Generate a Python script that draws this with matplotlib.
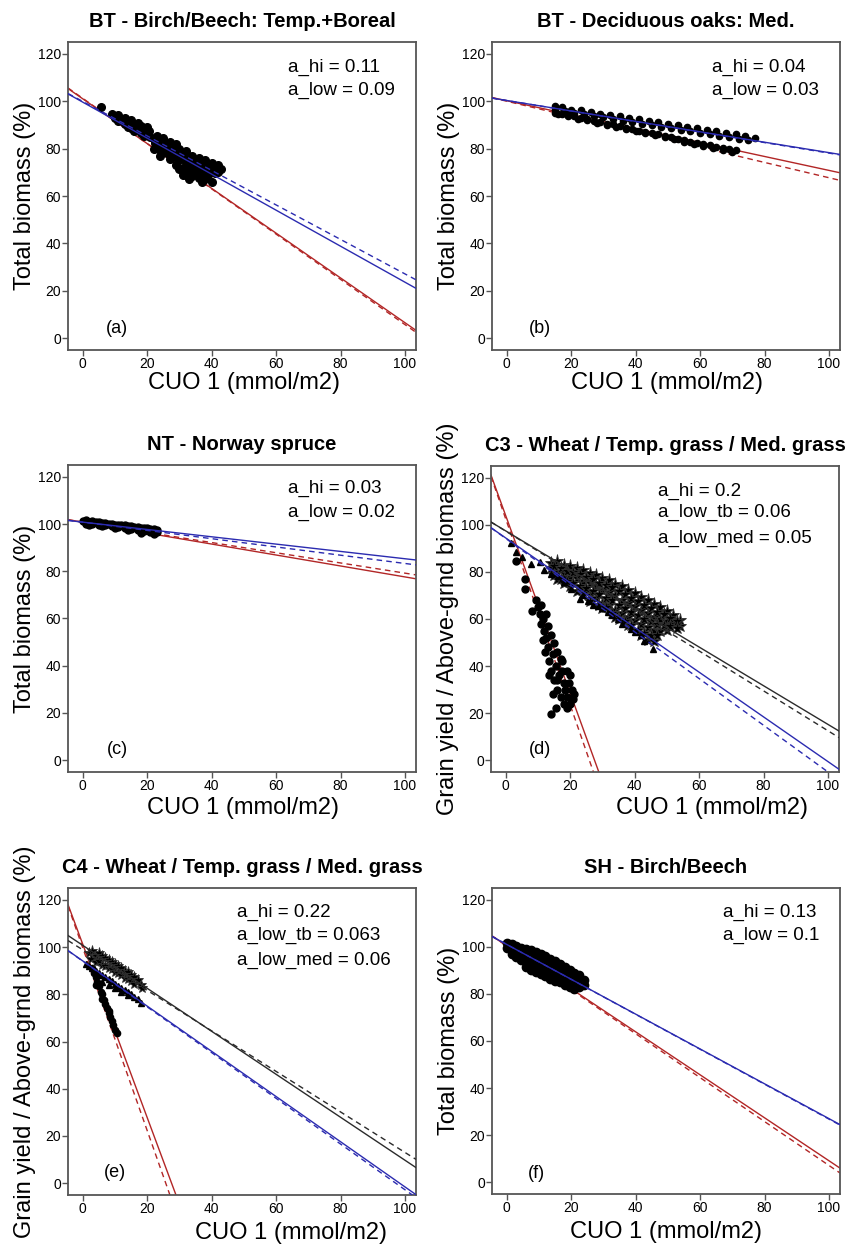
import matplotlib
matplotlib.use("Agg")
import matplotlib.pyplot as plt

plt.rcParams['font.family'] = ['Liberation Sans', 'DejaVu Sans']

RED = '#b22626'
BLUE = '#2b2bb0'
BLACK = '#2b2b2b'
FRAME = '#555555'

titles = ['BT - Birch/Beech: Temp.+Boreal', 'BT - Deciduous oaks: Med.',
          'NT - Norway spruce', 'C3 - Wheat / Temp. grass / Med. grass',
          'C4 - Wheat / Temp. grass / Med. grass', 'SH - Birch/Beech']
ylabels = ['Total biomass (%)', 'Total biomass (%)', 'Total biomass (%)',
           'Grain yield / Above-grnd biomass (%)',
           'Grain yield / Above-grnd biomass (%)', 'Total biomass (%)']
tags = ['(a)', '(b)', '(c)', '(d)', '(e)', '(f)']
coef_text = [['a_hi = 0.11', 'a_low = 0.09'],
             ['a_hi = 0.04', 'a_low = 0.03'],
             ['a_hi = 0.03', 'a_low = 0.02'],
             ['a_hi = 0.2', 'a_low_tb = 0.06', 'a_low_med = 0.05'],
             ['a_hi = 0.22', 'a_low_tb = 0.063', 'a_low_med = 0.06'],
             ['a_hi = 0.13', 'a_low = 0.1']]
x_ticks = [0, 20, 40, 60, 80, 100]
y_ticks = [0, 20, 40, 60, 80, 100, 120]

# ---- scatter data (CUO, %) ----
a_x = [5.5, 9, 10, 11, 11, 12, 13, 13, 14, 14, 15, 15, 16, 16, 17, 17, 18, 18, 19, 19, 20, 20, 21,
       22, 22, 23, 23, 24, 24, 25, 25, 26, 26, 27, 27, 28, 28, 29, 29, 30, 30, 31, 31, 32, 32, 32,
       33, 33, 33, 34, 34, 34, 35, 35, 36, 36, 36, 37, 37, 37, 38, 38, 38, 39, 39, 40, 40, 40,
       41, 41, 42, 42, 43, 27, 29, 30, 31, 24,
       10.5, 12.5, 14.5, 16.5, 18.5, 20.5, 22.5, 24.5, 26.5, 28.5, 30.5, 33.5, 35.5, 37.5, 39.5, 41.5]
a_y = [97.5, 94.5, 93, 94, 91.5, 92.5, 93, 90.5, 91.5, 89, 92, 88.5, 90, 87.5, 91, 88.5, 89.5, 86.5, 88, 85.5, 89, 86.5, 85,
       84, 80, 85.5, 82, 83, 79.5, 84.5, 81, 82.5, 78, 83, 79.5, 81, 76.5, 82, 78, 80, 75, 77.5, 72, 79, 74.5, 69,
       76, 71.5, 67, 77, 73, 68.5, 75, 70.5, 76, 72, 67.5, 74, 69.5, 66, 75, 71, 67, 73, 69, 74, 70.5, 66,
       72.5, 69.5, 73, 70, 71.5, 75.5, 73, 71.5, 69, 77,
       92.5, 91.5, 90, 89, 87.5, 87.5, 82.5, 81, 80, 78.5, 76.5, 73.5, 72.5, 71.5, 71.5, 71]

b_x = [15, 15, 17, 18, 20, 21, 23, 24, 26, 27, 29, 30, 32, 33, 35, 36, 38, 39, 41, 42, 44, 45,
       47, 48, 50, 51, 53, 54, 56, 57, 59, 60, 62, 63, 65, 66, 68, 69, 71, 72, 74, 75, 77,
       15, 17, 19, 21, 23, 25, 27, 29, 31, 33, 35, 37, 39, 41, 43, 45, 47, 49, 51, 53, 55,
       57, 59, 61, 63, 65, 67, 69, 71,
       16, 19, 22, 25, 28, 31, 34, 37, 40, 43, 46, 49, 52, 55, 58, 61, 64, 67, 70]
b_y = [97.8, 96.2, 97.5, 95.8, 96.5, 95.0, 96.2, 94.5, 95.5, 93.8, 94.8, 93.2, 94.2, 92.5, 93.6, 91.8,
       93.0, 91.2, 92.4, 90.6, 91.7, 89.9, 91.2, 89.3, 90.5, 88.6, 89.9, 87.9, 89.2, 87.3, 88.6, 86.6,
       88.0, 86.0, 87.3, 85.3, 86.8, 84.7, 86.0, 84.2, 85.5, 83.5, 84.5,
       95.2, 94.8, 94.0, 93.8, 92.8, 92.6, 91.8, 91.4, 90.6, 90.2, 89.5, 88.8, 88.3, 87.6, 87.2,
       86.4, 86.0, 85.2, 84.8, 84.2, 83.6, 83.0, 82.4, 81.8, 81.4, 80.8, 80.2, 79.8, 79.4,
       94.5, 93.6, 92.7, 91.9, 91.0, 90.1, 89.2, 88.3, 87.4, 86.6, 85.7, 84.8, 83.9, 83.0, 82.1,
       81.3, 80.4, 79.5, 78.6]

c_x = [0, 1, 2, 3, 4, 5, 6, 7, 8, 9, 10, 11, 12, 13, 14, 15, 16, 17, 18, 19, 20, 21, 22, 23,
       1, 3, 5, 7, 9, 11, 13, 15, 17, 19, 21, 23, 2, 6, 10, 14, 18, 22]
c_y = [101.2, 100.2, 101.0, 100.0, 100.8, 99.6, 100.4, 99.4, 100.2, 99.0, 99.8, 98.6, 99.4, 98.2,
       99.2, 97.8, 98.8, 97.4, 98.4, 97.0, 98.2, 96.6, 97.8, 96.8,
       101.6, 101.2, 100.8, 100.4, 100.0, 99.6, 99.4, 99.0, 98.6, 98.2, 98.0, 97.6,
       99.6, 99.0, 98.4, 97.6, 96.2, 95.6]

d_dot_x = [3.3, 5.9, 5.9, 8.0, 9.5, 10.0, 10.5, 11.0, 11.0, 11.5, 11.6, 12.0, 12.1, 12.5, 12.5, 13.0,
           13.0, 13.5, 14.0, 14.0, 14.5, 15.0, 15.0, 15.5, 16.0, 16.0, 16.5, 17.0, 17.0, 17.5, 18.0,
           18.0, 18.5, 19.0, 19.0, 19.5, 20.0, 20.5, 21.0, 21.2, 14.0, 15.6, 13.5, 14.5, 16.0, 17.5,
           19.0, 20.0]
d_dot_y = [84.7, 77.0, 72.8, 63.6, 68, 65, 62, 66, 58, 60, 50.9, 55, 45.9, 62, 52, 57,
           48, 42, 53, 38, 45, 50, 34, 40, 46, 30, 36, 43, 27, 38, 33,
           24, 30, 38, 27, 33, 24, 30, 26, 28, 19.6, 22.4, 36, 28, 34, 42,
           22, 36]
d_tri_x = [1.5, 3.3, 5, 7.9, 10.5, 12, 14.1, 16.2, 18, 18.2, 20.3, 22.9, 24, 25.5, 27, 28.5, 30,
           31.6, 33, 34.7, 36, 38.9, 40, 41.9, 43, 45.6]
d_tri_y = [92.5, 88.3, 86.5, 83.4, 84.1, 81, 79.1, 78.4, 77, 75.6, 72.8, 68.5, 70, 67.8, 66, 65.7,
           64.5, 62.9, 61.5, 60, 58, 55.8, 54.5, 53, 50.5, 47.3]
d_star_x = [14, 14, 16, 16, 16, 18, 18, 18, 20, 20, 20, 22, 22, 22, 24, 24, 24, 26, 26, 26, 26,
            28, 28, 28, 30, 30, 30, 30, 32, 32, 32, 34, 34, 34, 34, 36, 36, 36, 38, 38, 38, 38,
            40, 40, 40, 42, 42, 42, 42, 44, 44, 44, 44, 46, 46, 46, 46, 48, 48, 48, 50, 50, 50,
            52, 52, 54, 54,
            15, 15, 17, 17, 19, 19, 21, 21, 23, 23, 25, 25, 27, 27, 29, 29, 29, 31, 31, 31,
            33, 33, 33, 35, 35, 35, 37, 37, 37, 39, 39, 39, 41, 41, 41, 43, 43, 43, 45, 45, 45,
            47, 47, 47, 49, 49, 51, 51, 53, 53]
d_star_y = [84, 81.5, 84.5, 80, 77, 83, 79.5, 75.5, 82.5, 78, 74, 81.5, 77.5, 72, 81, 76, 71,
            79.5, 75.5, 70, 67.5, 78.5, 74, 69, 77.5, 72.5, 67, 64.5, 76.5, 71.5, 66,
            75, 70, 64, 61, 74, 68, 62.5, 72.5, 67, 61, 57.5, 71, 65.5, 59.5,
            69.5, 64, 58, 53, 68, 62.5, 56.5, 51, 66.5, 61, 55.5, 50.5, 65, 60, 55,
            63.5, 59, 55.5, 61.5, 58.5, 59.5, 57,
            82.5, 78.5, 81.5, 77, 80.5, 76, 80, 75.5, 79, 74, 78, 73, 77, 72, 75.5, 70.5, 66,
            74.5, 69, 65, 73.5, 68, 62.5, 72, 66, 60, 70.5, 64.5, 59, 69, 63, 57.5,
            67.5, 61.5, 55.5, 66, 60, 54, 64.5, 59, 53, 63, 58, 53, 62, 57.5, 60.5, 57, 59, 56]

e_dot_x = [3, 3.5, 4, 4.5, 5, 5.5, 6, 6.5, 7, 7.5, 8, 8.5, 9, 9.5, 10, 10.5, 4, 6, 8]
e_dot_y = [91, 89, 87.5, 85, 83.5, 81, 80, 77.5, 76, 74, 72, 70.5, 68.5, 67, 65, 63.5, 84, 78, 73]
e_tri_x = [1, 2, 3, 4, 5, 6, 7, 8, 9, 10, 11, 12, 13, 14, 15, 16, 17, 18, 6, 8, 10, 12, 14]
e_tri_y = [93, 92, 91, 90, 89, 88, 87.5, 86.5, 85.5, 84.5, 83.5, 82.5, 82, 81, 80, 79, 78, 76.5,
           85, 84, 82.5, 81, 79.5]
e_star_x = [2, 2.5, 3, 4, 4, 5, 5, 6, 6, 7, 7, 8, 8, 9, 9, 10, 10, 11, 11, 12, 12, 13, 13, 14, 14,
            15, 15, 16, 16, 17, 18, 18.5]
e_star_y = [97.5, 95, 98.5, 96, 93.5, 97.5, 94, 96, 92.5, 95.5, 92, 94.5, 91, 93.5, 90.5, 93, 89.5,
            92, 89, 91, 88, 90, 87, 89.5, 86.5, 88, 85.5, 87.5, 84.5, 86, 84, 82.5]

f_x = [0, 0, 1.5, 1.5, 1.5, 3, 3, 3, 4.5, 4.5, 4.5, 6, 6, 6, 6, 7.5, 7.5, 7.5, 7.5, 9, 9, 9, 9,
       10.5, 10.5, 10.5, 10.5, 12, 12, 12, 12, 13.5, 13.5, 13.5, 13.5, 15, 15, 15, 15,
       16.5, 16.5, 16.5, 16.5, 18, 18, 18, 18, 19.5, 19.5, 19.5, 19.5, 21, 21, 21, 21,
       22.5, 22.5, 22.5, 24, 24]
f_y = [101.5, 99.5, 101, 98.5, 97, 100.5, 98, 95.5, 99.5, 97, 94.5, 99, 96.5, 93.5, 91.5,
       98.5, 95.5, 92.5, 90, 98, 95, 92, 89.5, 97, 94, 91, 88.5, 96, 93, 90, 87.5,
       95, 92, 89, 86.5, 94, 91, 88, 85.5, 92.5, 90, 87, 85, 91.5, 89, 86, 84,
       90, 87.5, 85, 83, 89, 86.5, 84, 82, 88, 85.5, 83, 86, 84]

# ---- fitted lines: (intercept, slope), solid then dashed ----
a_red = [(101.0, -0.945), (101.2, -0.955)]
a_blue = [(99.6, -0.76), (99.9, -0.728)]
b_red = [(100.2, -0.294), (100.0, -0.323)]
b_blue = [(100.3, -0.22), (100.3, -0.222)]
c_red = [(100.8, -0.232), (100.8, -0.216)]
c_blue = [(100.8, -0.155), (100.8, -0.175)]
d_red = [(103.8, -3.77), (102.4, -3.95)]
d_blue = [(94.4, -0.95), (94.2, -0.992)]
d_black = [(97.4, -0.822), (97.3, -0.848)]
e_red = [(101.1, -3.67), (99.6, -3.87)]
e_blue = [(94.1, -0.957), (94.0, -0.968)]
e_black = [(100.7, -0.91), (98.8, -0.858)]
f_red = [(100.4, -0.913), (100.4, -0.933)]
f_blue = [(101.0, -0.74), (101.0, -0.742)]

dot = dict(ls='none', marker='o', color='black', mec='black')
tri = dict(ls='none', marker='^', color='black', mec='black', ms=5)
star = dict(ls='none', marker='*', color='black', mec='#333333', mew=0.6, ms=9.5)

panels = [
    dict(pts=[(a_x, a_y, dict(dot, ms=5.5))], red=a_red, blue=a_blue, black=None),
    dict(pts=[(b_x, b_y, dict(dot, ms=4.5))], red=b_red, blue=b_blue, black=None),
    dict(pts=[(c_x, c_y, dict(dot, ms=5))], red=c_red, blue=c_blue, black=None),
    dict(pts=[(d_dot_x, d_dot_y, dict(dot, ms=5)), (d_star_x, d_star_y, star),
              (d_tri_x, d_tri_y, tri)], red=d_red, blue=d_blue, black=d_black),
    dict(pts=[(e_dot_x, e_dot_y, dict(dot, ms=4.5)), (e_star_x, e_star_y, dict(star, ms=8)),
              (e_tri_x, e_tri_y, tri)], red=e_red, blue=e_blue, black=e_black),
    dict(pts=[(f_x, f_y, dict(dot, ms=6))], red=f_red, blue=f_blue, black=None),
]

# layout in pixels (left, top, right, bottom)
W, H = 850, 1245
boxes = [(68, 42, 416, 350), (492, 42, 840, 350), (68, 465, 416, 772),
         (491, 466, 839, 772), (68, 888, 416, 1195), (492, 888, 840, 1194)]
xlab_pos = [(0.507, -0.108), (0.503, -0.108), (0.504, -0.117),
            (0.634, -0.117), (0.64, -0.124), (0.50, -0.124)]
coef_x = [0.632, 0.632, 0.632, 0.48, 0.486, 0.664]
coef_y = [[0.919, 0.844], [0.919, 0.844], [0.925, 0.847],
          [0.918, 0.847, 0.765], [0.922, 0.847, 0.765], [0.92, 0.846]]
tag_pos = [(0.141, 0.071), (0.138, 0.071), (0.141, 0.072),
           (0.141, 0.072), (0.135, 0.072), (0.129, 0.068)]
line_styles = ['-', (0, (4, 3))]

fig = plt.figure(figsize=(8.5, 12.45), dpi=100)

for i, p in enumerate(panels):
    l, t, r, b = boxes[i]
    ax = fig.add_axes([l / W, 1 - b / H, (r - l) / W, (b - t) / H])
    ax.set_xlim(-4.6, 103.4)
    ax.set_ylim(-5, 125)

    # red fits sit under the points, blue/black ones on top
    for k, (ic, sl) in enumerate(p['red']):
        ax.axline((0, ic), slope=sl, color=RED, lw=1, ls=line_styles[k], zorder=1)
    for xs, ys, kw in p['pts']:
        ax.plot(xs, ys, zorder=2, **kw)
    for k, (ic, sl) in enumerate(p['blue']):
        ax.axline((0, ic), slope=sl, color=BLUE, lw=1, ls=line_styles[k], zorder=3)
    if p['black'] is not None:
        for k, (ic, sl) in enumerate(p['black']):
            ax.axline((0, ic), slope=sl, color=BLACK, lw=1, ls=line_styles[k], zorder=3)

    ax.set_xticks(x_ticks)
    ax.set_yticks(y_ticks)
    ax.tick_params(direction='out', length=4, width=1, colors=FRAME,
                   labelcolor='black', labelsize=10, pad=1)
    for s in ax.spines.values():
        s.set_color(FRAME)
        s.set_linewidth(1.3)

    ax.set_title(titles[i], fontsize=14.5, fontweight='bold', pad=11)
    ax.text(-0.124, 0.5, ylabels[i], rotation=90, fontsize=17,
            transform=ax.transAxes, ha='center', va='center')
    ax.text(xlab_pos[i][0], xlab_pos[i][1], 'CUO 1 (mmol/m2)', fontsize=17,
            transform=ax.transAxes, ha='center', va='center')
    for line, yy in zip(coef_text[i], coef_y[i]):
        ax.text(coef_x[i], yy, line, fontsize=13.5, transform=ax.transAxes,
                ha='left', va='center')
    ax.text(tag_pos[i][0], tag_pos[i][1], tags[i], fontsize=13,
            transform=ax.transAxes, ha='center', va='center')

fig.savefig('out.png', dpi=100)
